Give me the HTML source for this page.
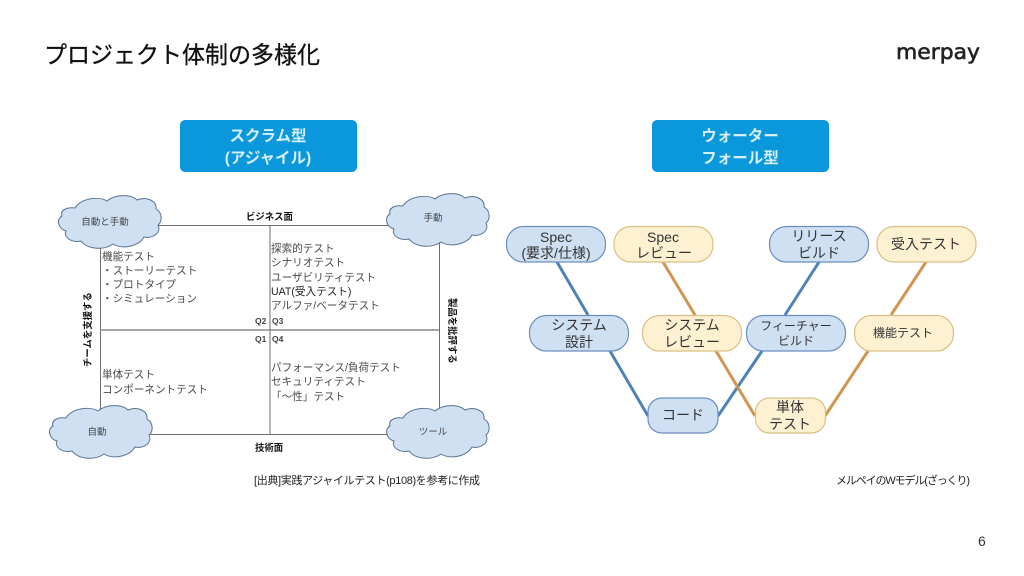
<!DOCTYPE html>
<html><head><meta charset="utf-8"><style>
html,body{margin:0;padding:0;background:#fff;width:1024px;height:576px;overflow:hidden}
svg{display:block}
text{font-family:"Liberation Sans","Noto Sans CJK JP",sans-serif}
.m{font-size:10.6px;fill:#4a4a4a}
.s{font-size:8.5px;font-weight:bold;fill:#444}
.h{font-size:9.4px;font-weight:bold;fill:#111}
.c{font-size:9.5px;fill:#444;text-anchor:middle}
.n{font-size:14px;fill:#333;text-anchor:middle}
.w{font-size:15.5px;font-weight:bold;fill:#d5f0fb;text-anchor:middle}
.b{fill:#cfe0f3;stroke:#6c8ebf;stroke-width:1.2}
.y{fill:#fdf1d2;stroke:#d9bf84;stroke-width:1.2}
</style></head><body>
<svg width="1024" height="576" viewBox="0 0 1024 576" xmlns="http://www.w3.org/2000/svg">
<defs>
<path id="cl" d="M18 13C24 3 42 1 50 6C58 -1 74 -1 80 5C90 1 100 6 99 14C106 18 105 27 101 30C105 38 95 44 87 42C82 51 66 55 56 49C46 56 30 54 24 46C14 48 6 42 9 36C1 34 -1 24 5 21C3 15 10 12 18 13Z" fill="#cfe0f3" stroke="#59728f" stroke-width="1"/>
</defs>
<text x="44" y="63" font-size="23.5" fill="#111" stroke="#111" stroke-width="0.3" textLength="276" lengthAdjust="spacingAndGlyphs">プロジェクト体制の多様化</text>
<text x="896" y="59" font-size="21" fill="#222" stroke="#222" stroke-width="0.6" textLength="84" lengthAdjust="spacingAndGlyphs" style="font-family:'DejaVu Sans',sans-serif">merpay</text>

<rect x="180" y="120" width="177" height="52" rx="5" fill="#0b97dc"/>
<text class="w" x="268" y="141">スクラム型</text>
<text class="w" x="268" y="163">(アジャイル)</text>
<rect x="652" y="120" width="177" height="52" rx="5" fill="#0b97dc"/>
<text class="w" x="740" y="141">ウォーター</text>
<text class="w" x="740" y="163">フォール型</text>

<g fill="none" stroke="#6e6e6e" stroke-width="1">
<path d="M100.500 225.500H439.500V434.500H100.500Z"/>
<path d="M270 225V434"/>
</g>
<path d="M100 330H439" stroke="#8a8a8a" stroke-width="1.500"/>

<use href="#cl" x="57" y="195"/>
<use href="#cl" x="385" y="193"/>
<use href="#cl" x="48" y="405"/>
<use href="#cl" x="385" y="405"/>
<text class="c" x="105" y="225">自動と手動</text>
<text class="c" x="433" y="221">手動</text>
<text class="c" x="97" y="435">自動</text>
<text class="c" x="433" y="435">ツール</text>

<text class="h" x="246" y="220">ビジネス面</text>
<text class="h" x="255" y="451">技術面</text>
<text class="h" transform="translate(91,367) rotate(-90)">チームを支援する</text>
<text class="h" transform="translate(449,298) rotate(90)">製品を批評する</text>

<text class="m" x="102" y="260">機能テスト</text>
<text class="m" x="102" y="274">・ストーリーテスト</text>
<text class="m" x="102" y="288">・プロトタイプ</text>
<text class="m" x="102" y="302">・シミュレーション</text>
<text class="m" x="271" y="252">探索的テスト</text>
<text class="m" x="271" y="266">シナリオテスト</text>
<text class="m" x="271" y="281">ユーザビリティテスト</text>
<text class="m" x="271" y="295" style="fill:#222">UAT(受入テスト)</text>
<text class="m" x="271" y="309">アルファ/ベータテスト</text>
<text class="s" x="255" y="324">Q2</text>
<text class="s" x="272" y="324">Q3</text>
<text class="s" x="255" y="342">Q1</text>
<text class="s" x="272" y="342">Q4</text>
<text class="m" x="102" y="378">単体テスト</text>
<text class="m" x="102" y="393">コンポーネントテスト</text>
<text class="m" x="271" y="371">パフォーマンス/負荷テスト</text>
<text class="m" x="271" y="385">セキュリティテスト</text>
<text class="m" x="271" y="400">「～性」テスト</text>

<text x="254" y="484" font-size="11" fill="#222" textLength="226">[出典]実践アジャイルテスト(p108)を参考に作成</text>
<text x="836" y="484" font-size="11" fill="#222" textLength="134">メルペイのWモデル(ざっくり)</text>
<text x="978" y="546" font-size="14" fill="#333">6</text>

<g fill="none" stroke-width="3">
<path d="M557 262L588 315M610 351L648 416M718 416L762 351M819 262L785 315" stroke="#4f82b5"/>
<path d="M663 262L695 315M716 351L755 416M825 416L868 351M926 262L891 315" stroke="#cf9650"/>
</g>

<rect class="b" x="506.500" y="226.500" width="99" height="35.500" rx="17"/>
<rect class="y" x="614" y="226.500" width="99" height="35.500" rx="17"/>
<rect class="b" x="529.500" y="315.500" width="99" height="35.500" rx="17"/>
<rect class="y" x="642.500" y="315.500" width="99" height="35.500" rx="17"/>
<rect class="b" x="648" y="398" width="70" height="35" rx="14"/>
<rect class="b" x="746.500" y="315.500" width="99" height="35.500" rx="17"/>
<rect class="y" x="854.500" y="315.500" width="99" height="35.500" rx="17"/>
<rect class="y" x="755.500" y="398" width="70" height="35" rx="14"/>
<rect class="b" x="769.500" y="226.500" width="99" height="35.500" rx="17"/>
<rect class="y" x="877" y="226.500" width="99" height="35.500" rx="17"/>

<text class="n" x="556" y="242" style="font-size:14px">Spec</text>
<text class="n" x="556" y="258">(要求/仕様)</text>
<text class="n" x="663" y="242" style="font-size:14px">Spec</text>
<text class="n" x="664" y="258">レビュー</text>
<text class="n" x="579" y="330">システム</text>
<text class="n" x="579" y="347">設計</text>
<text class="n" x="692" y="330">システム</text>
<text class="n" x="692" y="347">レビュー</text>
<text class="n" x="683" y="420">コード</text>
<text class="n" x="796" y="330" style="font-size:12px">フィーチャー</text>
<text class="n" x="796" y="345" style="font-size:12px">ビルド</text>
<text class="n" x="903" y="337" style="font-size:12px">機能テスト</text>
<text class="n" x="790" y="412">単体</text>
<text class="n" x="790" y="429">テスト</text>
<text class="n" x="819" y="241">リリース</text>
<text class="n" x="819" y="258">ビルド</text>
<text class="n" x="926" y="249">受入テスト</text>
</svg>
</body></html>
